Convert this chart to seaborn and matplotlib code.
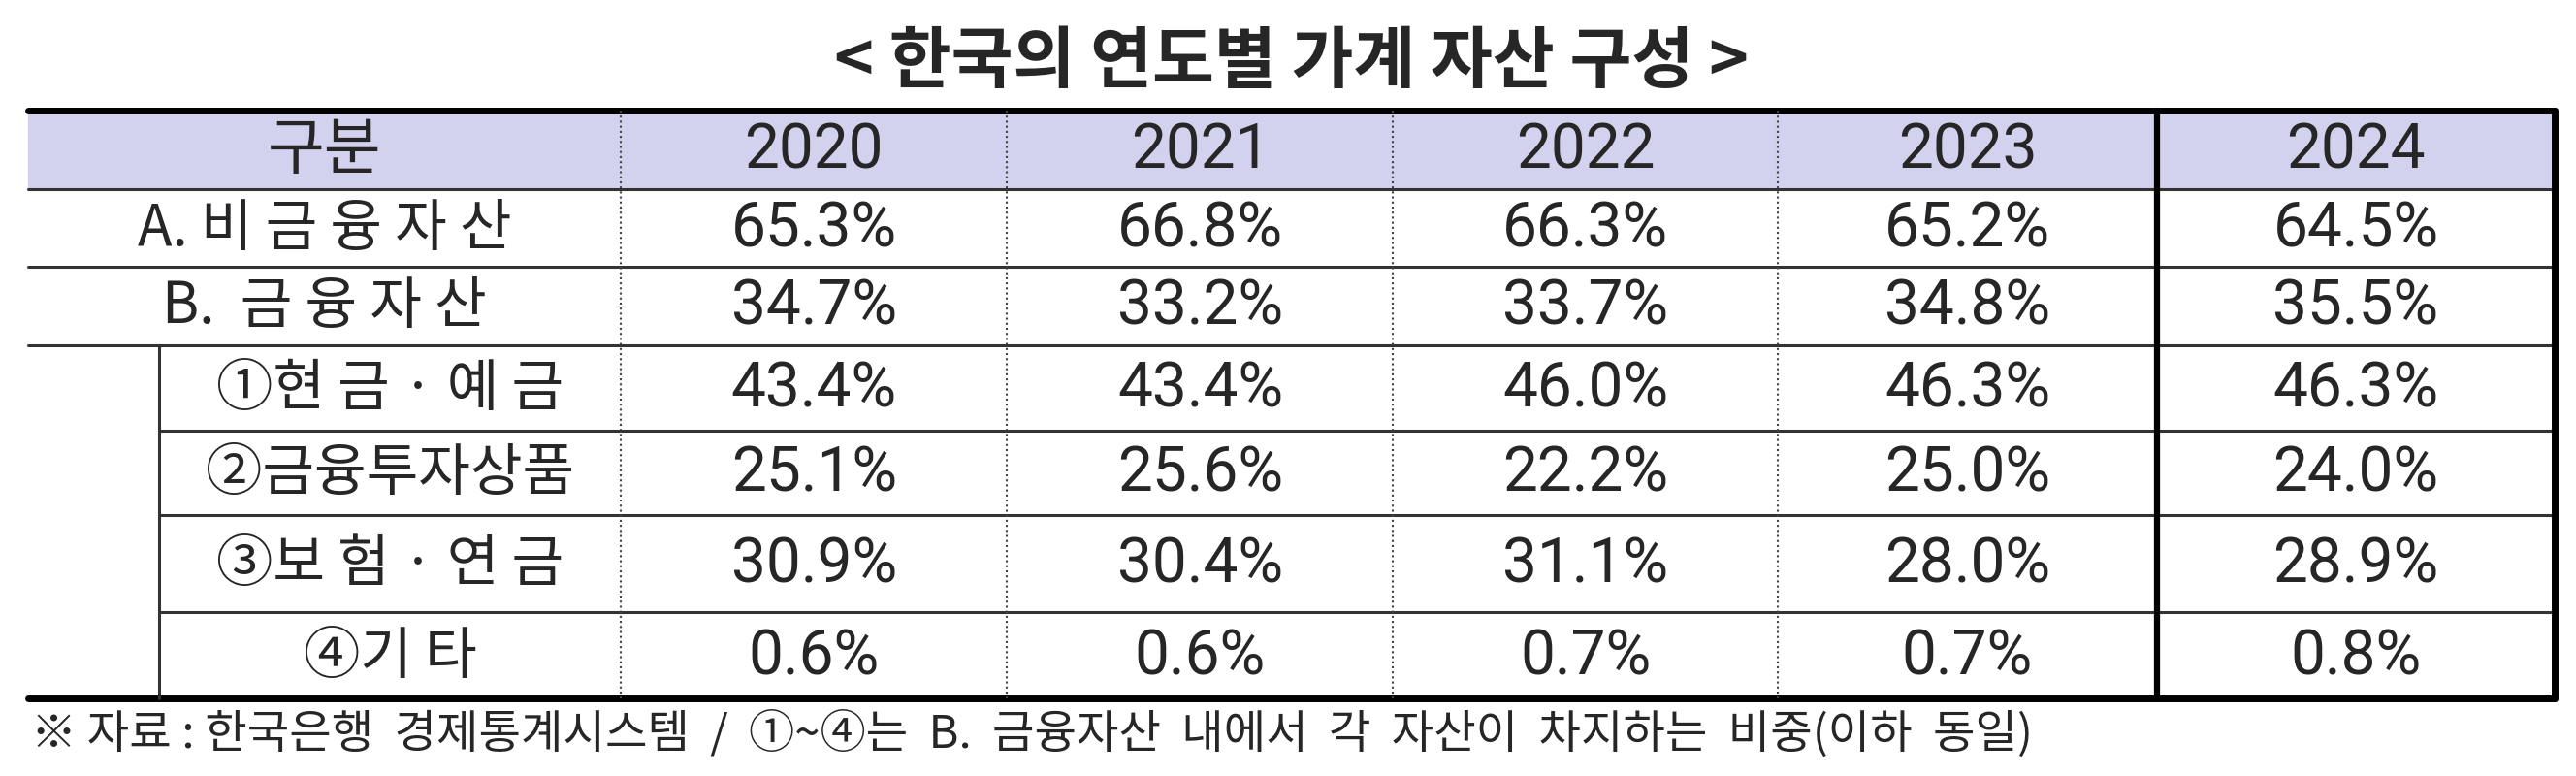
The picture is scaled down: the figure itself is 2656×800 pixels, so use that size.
import matplotlib
matplotlib.use("Agg")
import matplotlib.pyplot as plt
import seaborn as sns

title = "< 한국의 연도별 가계 자산 구성 >"
header_label = "구분"
years = ["2020", "2021", "2022", "2023", "2024"]
row_labels = ["A. 비금융자산", "B. 금융자산", "①현 금 · 예 금", "②금융투자상품", "③보 험 · 연 금", "④기 타"]
nonfin = [65.3, 66.8, 66.3, 65.2, 64.5]
fin = [34.7, 33.2, 33.7, 34.8, 35.5]
cash = [43.4, 43.4, 46.0, 46.3, 46.3]
invest = [25.1, 25.6, 22.2, 25.0, 24.0]
insur = [30.9, 30.4, 31.1, 28.0, 28.9]
other = [0.6, 0.6, 0.7, 0.7, 0.8]
values = [nonfin, fin, cash, invest, insur, other]
footnote = "※ 자료 : 한국은행  경제통계시스템  /  ①~④는  B.  금융자산  내에서  각  자산이  차지하는  비중(이하  동일)"

sns.set_theme(style="white")
KR = ["Noto Sans CJK KR", "DejaVu Sans"]
NUM = ["Liberation Sans Narrow", "Roboto", "Noto Sans CJK KR"]
plt.rcParams['font.family'] = KR

fig = plt.figure(figsize=(26.56, 8), dpi=100)
ax = fig.add_axes([0, 0, 1, 1])
ax.set_xlim(0, 1568)
ax.set_ylim(472, 0)
ax.axis("off")

col_x = [17, 378, 613, 848, 1082, 1313, 1555]
row_y = [67, 115, 162, 210, 262, 313, 372, 425]
indent = 97

ax.fill_between([col_x[0], col_x[-1]], row_y[0], row_y[1], color="#d2d2ee", zorder=0)

ax.text((col_x[0] + col_x[-1]) / 2, 38, title, ha="center", va="center",
        fontsize=50, fontweight="bold", family=KR)

ax.text((col_x[0] + col_x[1]) / 2, (row_y[0] + row_y[1]) / 2 + 1, header_label,
        ha="center", va="center", fontsize=46, fontweight="medium", family=KR)
for i, y in enumerate(years):
    ax.text((col_x[i + 1] + col_x[i + 2]) / 2, (row_y[0] + row_y[1]) / 2 + 1, y,
            ha="center", va="center", fontsize=46, family=NUM)

for r, (lab, vals) in enumerate(zip(row_labels, values)):
    yc = (row_y[r + 1] + row_y[r + 2]) / 2 + 1
    xc = (col_x[0] + col_x[1]) / 2 if r < 2 else (indent + col_x[1]) / 2
    lab_show = lab.replace("비금융자산", "비 금 융 자 산").replace("B. 금융자산", "B.  금 융 자 산") if r < 2 else lab
    ax.text(xc, yc, lab_show, ha="center", va="center", fontsize=42,
            fontweight="medium", family=KR)
    for i, v in enumerate(vals):
        ax.text((col_x[i + 1] + col_x[i + 2]) / 2, yc, f"{v:.1f}%",
                ha="center", va="center", fontsize=46, family=NUM)

ax.plot([col_x[0], col_x[-1]], [row_y[0]] * 2, color="black", lw=5)
ax.plot([col_x[0], col_x[-1]], [row_y[-1]] * 2, color="black", lw=5)
for j in range(1, len(row_y) - 1):
    x0 = col_x[0] if j <= 3 else indent
    ax.plot([x0, col_x[-1]], [row_y[j]] * 2, color="#333333", lw=2.2)
ax.plot([indent, indent], [row_y[3], row_y[-1]], color="#333333", lw=2.2)
for x in col_x[1:5]:
    ax.plot([x, x], [row_y[0], row_y[-1]], color="#444444", lw=1.5, ls=(0, (1, 1.5)))
ax.plot([col_x[5], col_x[5]], [row_y[0], row_y[-1]], color="black", lw=4.5)
ax.plot([col_x[6], col_x[6]], [row_y[0], row_y[-1]], color="black", lw=5)

ax.text(col_x[0] + 2, 447, footnote, ha="left", va="center", fontsize=34, family=KR)

fig.savefig("out.png", dpi=100)
